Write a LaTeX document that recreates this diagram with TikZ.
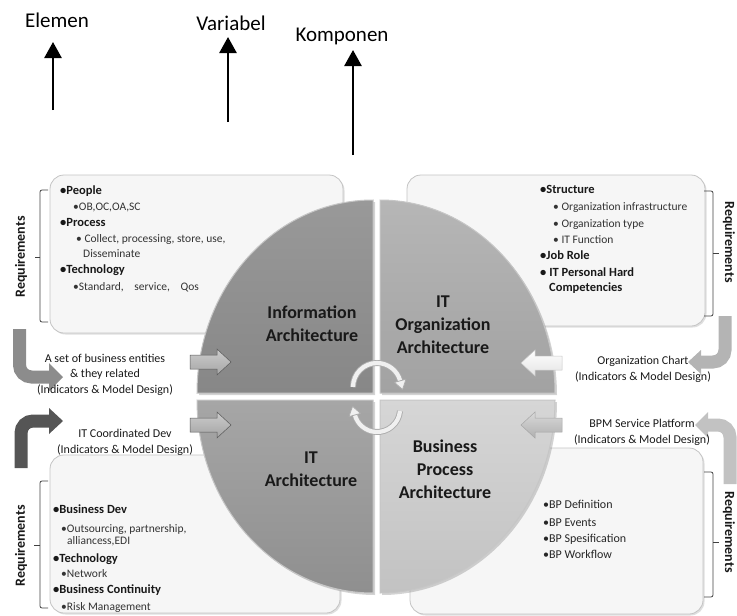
\documentclass[tikz,border=0pt]{standalone}
\usepackage{fontspec}
\setmainfont{Carlito}
\usetikzlibrary{arrows.meta,shadows}

\definecolor{panelfill}{HTML}{F6F6F6}
\definecolor{panelline}{HTML}{C4C4C4}
\definecolor{qtlA}{HTML}{999999}\definecolor{qtlB}{HTML}{878787}
\definecolor{qtrA}{HTML}{B6B6B6}\definecolor{qtrB}{HTML}{A2A2A2}
\definecolor{qblA}{HTML}{A6A6A6}\definecolor{qblB}{HTML}{8F8F8F}
\definecolor{qbrA}{HTML}{D6D6D6}\definecolor{qbrB}{HTML}{C2C2C2}
\definecolor{bentA}{HTML}{8C8C8C}
\definecolor{bentB}{HTML}{555555}
\definecolor{bentC}{HTML}{B4B4B4}
\definecolor{bentD}{HTML}{C2C2C2}

\begin{document}
\begin{tikzpicture}[x=1pt, y=-1pt,
  panel/.style={draw=panelline, fill=panelfill, line width=0.8pt, rounded corners=14pt,
    drop shadow={shadow xshift=1.5pt, shadow yshift=-1.5pt, opacity=0.25}},
  quadrant/.style={draw=white!55!gray, line width=1pt,
    drop shadow={shadow xshift=2pt, shadow yshift=-2pt, opacity=0.35}},
  hd/.style={anchor=base west, inner sep=0pt, font=\bfseries\fontsize{12.5}{15}\selectfont, text=black!90},
  sub/.style={anchor=base west, inner sep=0pt, font=\fontsize{11.5}{14}\selectfont, text=black!80},
  bpitem/.style={anchor=base west, inner sep=0pt, font=\fontsize{12}{14}\selectfont, text=black!85},
  quadtext/.style={align=center, inner sep=0pt, font=\bfseries\fontsize{18}{23}\selectfont, text=black!90},
  side/.style={align=center, inner sep=0pt, font=\fontsize{12}{15.5}\selectfont, text=black!90},
  req/.style={inner sep=0pt, font=\bfseries\fontsize{14}{16}\selectfont, text=black!90},
  toplabel/.style={anchor=base, inner sep=0pt, font=\fontsize{21}{25}\selectfont},
  uparrow/.style={line width=2.6pt, -{Triangle[length=16pt,width=17pt]}},
  bracket/.style={draw=black!75, line width=0.8pt, rounded corners=2pt},
  tick/.style={draw=black!75, line width=0.8pt},
  bent/.style={line width=13pt, rounded corners=12pt},
  arcout/.style={line width=6pt, draw=gray!65},
  arcin/.style={line width=4.2pt, draw=gray!12},
  archead/.style={fill=gray!12, draw=gray!65, line width=0.8pt, line join=round},
]
\useasboundingbox (0,0) rectangle (737,616);

% ---- headings with upward arrows ----
\node[toplabel] (elemen) at (57,27.5) {Elemen};
\node[toplabel] (variabel) at (231,30.5) {Variabel};
\node[toplabel] (komponen) at (342,41.5) {Komponen};
\coordinate (elemenTail) at (53,110);   \coordinate (elemenTip) at (53,42);
\coordinate (variabelTail) at (228,122); \coordinate (variabelTip) at (228,37);
\coordinate (komponenTail) at (353,155); \coordinate (komponenTip) at (353,50);
\draw[uparrow] (elemenTail) -- (elemenTip);
\draw[uparrow] (variabelTail) -- (variabelTip);
\draw[uparrow] (komponenTail) -- (komponenTip);

% ---- requirement panels ----
\path[panel] (50,175) rectangle (343,333);
\path[panel] (407,175) rectangle (705,326);
\path[panel] (50,455) rectangle (340,613);
\path[panel] (410,448) rectangle (703,614);

% ---- bent side arrows ----
\draw[bent, bentA] (19.5,329) |- (50,377);
\fill[bentA] (49,363) -- (63,377) -- (49,391) -- cycle;
\draw[bent, bentB] (21,468) |- (50,421);
\fill[bentB] (49,408) -- (63,421) -- (49,434) -- cycle;
\draw[bent, bentC] (725,316) |- (700,362);
\fill[bentC] (701,350) -- (688,362) -- (701,374) -- cycle;
\draw[bent, bentD] (730,484) |- (707,425);
\fill[bentD] (708,412) -- (695,425) -- (708,438) -- cycle;

% ---- brackets and their labels ----
\draw[bracket] (48,190) -- (40,190) -- (40,322) -- (48,322);
\draw[tick] (40,257) -- (35,257);
\draw[bracket] (704,191) -- (713,191) -- (713,316) -- (704,316);
\draw[tick] (713,253) -- (719,253);
\draw[bracket] (48,481) -- (40,481) -- (40,608) -- (48,608);
\draw[tick] (40,545) -- (34,545);
\draw[bracket] (704,472) -- (713,472) -- (713,597) -- (704,597);
\draw[tick] (713,542) -- (719,542);
\node[req, rotate=90] (reqTL) at (21,257) {Requirements};
\node[req, rotate=90] (reqBL) at (21,546) {Requirements};
\node[req, rotate=-90] (reqTR) at (729,242) {Requirements};
\node[req, rotate=-90] (reqBR) at (729,532) {Requirements};

% ---- panel contents ----
\node[hd]  (tl1) at (60,194) {•People};
\node[sub] (tl2) at (73,210) {•OB,OC,OA,SC};
\node[hd]  (tl3) at (60,226) {•Process};
\node[sub] (tl4) at (76,242) {• Collect, processing, store, use,};
\node[sub] (tl5) at (83,257) {Disseminate};
\node[hd]  (tl6) at (60,273) {•Technology};
\node[sub] (tl7) at (73,290) {•Standard,\hspace{8pt} service,\hspace{8pt} Qos};

\node[hd]  (tr1) at (540,193) {•Structure};
\node[sub] (tr2) at (553,210) {• Organization infrastructure};
\node[sub] (tr3) at (553,227) {• Organization type};
\node[sub] (tr4) at (553,243) {• IT Function};
\node[hd]  (tr5) at (540,259) {•Job Role};
\node[hd]  (tr6) at (540,276) {• IT Personal Hard};
\node[hd]  (tr7) at (549,291) {Competencies};

\node[hd]  (bl1) at (53,513) {•Business Dev};
\node[sub] (bl2) at (61,532) {•Outsourcing, partnership,};
\node[sub] (bl3) at (67,544) {alliancess,EDI};
\node[hd]  (bl4) at (53,562) {•Technology};
\node[sub] (bl5) at (61,577) {•Network};
\node[hd]  (bl6) at (53,593) {•Business Continuity};
\node[sub] (bl7) at (61,610) {•Risk Management};

\node[bpitem] (br1) at (543,508) {•BP Definition};
\node[bpitem] (br2) at (543,526) {•BP Events};
\node[bpitem] (br3) at (543,542) {•BP Spesification};
\node[bpitem] (br4) at (543,558) {•BP Workflow};

% ---- the four architecture quadrants ----
\path[quadrant, top color=qtlA, bottom color=qtlB]
  (373,393) -- (373,200) arc[start angle=-90, end angle=-180, x radius=176, y radius=193] -- cycle;
\path[quadrant, top color=qtrA, bottom color=qtrB]
  (380,393) -- (555,393) arc[start angle=0, end angle=-90, x radius=175, y radius=193] -- cycle;
\path[quadrant, top color=qblA, bottom color=qblB]
  (373,400) -- (197,400) arc[start angle=180, end angle=90, x radius=176, y radius=193] -- cycle;
\path[quadrant, top color=qbrA, bottom color=qbrB]
  (380,400) -- (380,593) arc[start angle=90, end angle=0, x radius=175, y radius=193] -- cycle;

\node[quadtext] (info) at (312,323.5) {Information\\Architecture};
\node[quadtext] (itorg) at (443,324.5) {IT\\Organization\\Architecture};
\node[quadtext] (itarch) at (311,469.5) {IT\\Architecture};
\node[quadtext] (bpa) at (445,469) {Business\\Process\\Architecture};

% ---- block arrows into the circle ----
\draw[draw=gray!70!black, line width=0.5pt, top color=gray!40, bottom color=gray!70]
  (190,362) ++(0,-7) -- ++(27,0) -- ++(0,-6) -- ++(14,13) -- ++(-14,13) -- ++(0,-6) -- ++(-27,0) -- cycle;
\draw[draw=gray!70!black, line width=0.5pt, top color=gray!40, bottom color=gray!72]
  (190,425) ++(0,-7) -- ++(27,0) -- ++(0,-6) -- ++(14,13) -- ++(-14,13) -- ++(0,-6) -- ++(-27,0) -- cycle;
\draw[draw=gray!45, line width=0.5pt, top color=white, bottom color=gray!22]
  (562,363) ++(0,-7) -- ++(-27,0) -- ++(0,-6) -- ++(-14,13) -- ++(14,13) -- ++(0,-6) -- ++(27,0) -- cycle;
\draw[draw=gray!70, line width=0.5pt, top color=gray!30, bottom color=gray!62]
  (562,425) ++(0,-7) -- ++(-27,0) -- ++(0,-6) -- ++(-14,13) -- ++(14,13) -- ++(0,-6) -- ++(27,0) -- cycle;

% ---- circular arrows at the centre ----
\draw[arcout] (353,387) arc[start angle=180, end angle=345, radius=24];
\draw[arcin]  (353,387) arc[start angle=180, end angle=345, radius=24];
\filldraw[archead] (394.4,382.4) -- (406,379.2) -- (402.5,389.5) -- cycle;
\draw[arcout] (400,411) arc[start angle=5, end angle=165, radius=23];
\draw[arcin]  (400,411) arc[start angle=5, end angle=165, radius=23];
\filldraw[archead] (360.6,413.4) -- (349,416.6) -- (352.5,406.3) -- cycle;

% ---- side labels ----
\node[side] (entities) at (105,374.5) {A set of business entities\\\& they related\\(Indicators \& Model Design)};
\node[side] (itdev) at (125,442.5) {IT Coordinated Dev\\(Indicators \& Model Design)};
\node[side] (orgchart) at (643,369.5) {Organization Chart\\(Indicators \& Model Design)};
\node[side] (bpm) at (642,432.5) {BPM Service Platform\\(Indicators \& Model Design)};
\end{tikzpicture}
\end{document}
